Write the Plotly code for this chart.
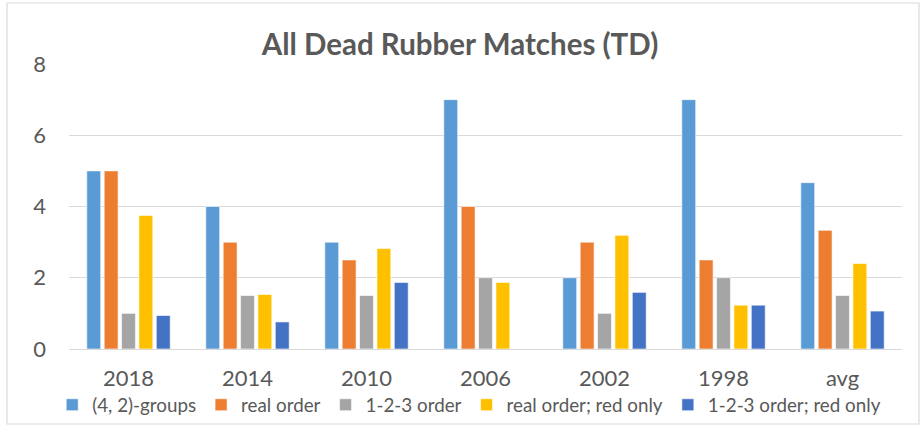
import plotly.graph_objects as go

categories = ["2018", "2014", "2010", "2006", "2002", "1998", "avg"]
series_names = ["(4, 2)-groups", "real order", "1-2-3 order", "real order; red only", "1-2-3 order; red only"]
groups_42 = [5, 4, 3, 7, 2, 7, 4.67]
real_order = [5, 3, 2.5, 4, 3, 2.5, 3.33]
order_123 = [1, 1.5, 1.5, 2, 1, 2, 1.5]
real_red = [3.75, 1.53, 2.82, 1.87, 3.19, 1.23, 2.40]
order_123_red = [0.94, 0.76, 1.87, 0, 1.59, 1.23, 1.065]
colors = ["#5B9BD5", "#ED7D31", "#A5A5A5", "#FFC000", "#4472C4"]

FONT = "Lato"
TXT = "#595959"

fig = go.Figure()
for name, vals, col in zip(series_names, [groups_42, real_order, order_123, real_red, order_123_red], colors):
    fig.add_trace(go.Bar(x=categories, y=vals, name=name, marker=dict(color=col, line=dict(color="white", width=0.6))))

fig.update_layout(
    width=920, height=426,
    margin=dict(l=69, r=18, t=64, b=77, autoexpand=False),
    paper_bgcolor="white", plot_bgcolor="white",
    barmode="group", bargap=0.27, bargroupgap=0.2,
    title=dict(text="<b>All Dead Rubber Matches (TD)</b>", x=0.5, xanchor="center",
               y=1 - 45 / 426, yanchor="middle", yref="container",
               font=dict(family=FONT, size=29.5, color=TXT)),
    font=dict(family=FONT, color=TXT),
    xaxis=dict(showgrid=False, tickfont=dict(size=22, color=TXT), showline=False, ticks="",
               automargin=False, ticklabelstandoff=14, tickmode="linear", dtick=1),
    yaxis=dict(range=[0, 8], dtick=2, showgrid=True, gridcolor="#D9D9D9", gridwidth=1.3,
               zeroline=True, zerolinecolor="#D9D9D9", zerolinewidth=1.3, automargin=False,
               tickfont=dict(size=22, color=TXT), ticklabelstandoff=22),
    legend=dict(orientation="h", x=0.51, xanchor="center", xref="container",
                y=1 - 405 / 426, yanchor="middle", yref="container", bgcolor="rgba(0,0,0,0)",
                font=dict(size=18.8, color=TXT), itemwidth=30, traceorder="normal"),
    showlegend=True,
)
fig.add_shape(type="rect", xref="paper", yref="paper",
              x0=(7 - 69) / 833, x1=(919 - 69) / 833, y0=-(424 - 349) / 285, y1=(349 - 3) / 285,
              line=dict(color="#D9D9D9", width=1.2), fillcolor="rgba(0,0,0,0)", layer="below")
fig.write_html("out.html", config={"displayModeBar": False},
               post_script="document.body.style.margin='0';")
